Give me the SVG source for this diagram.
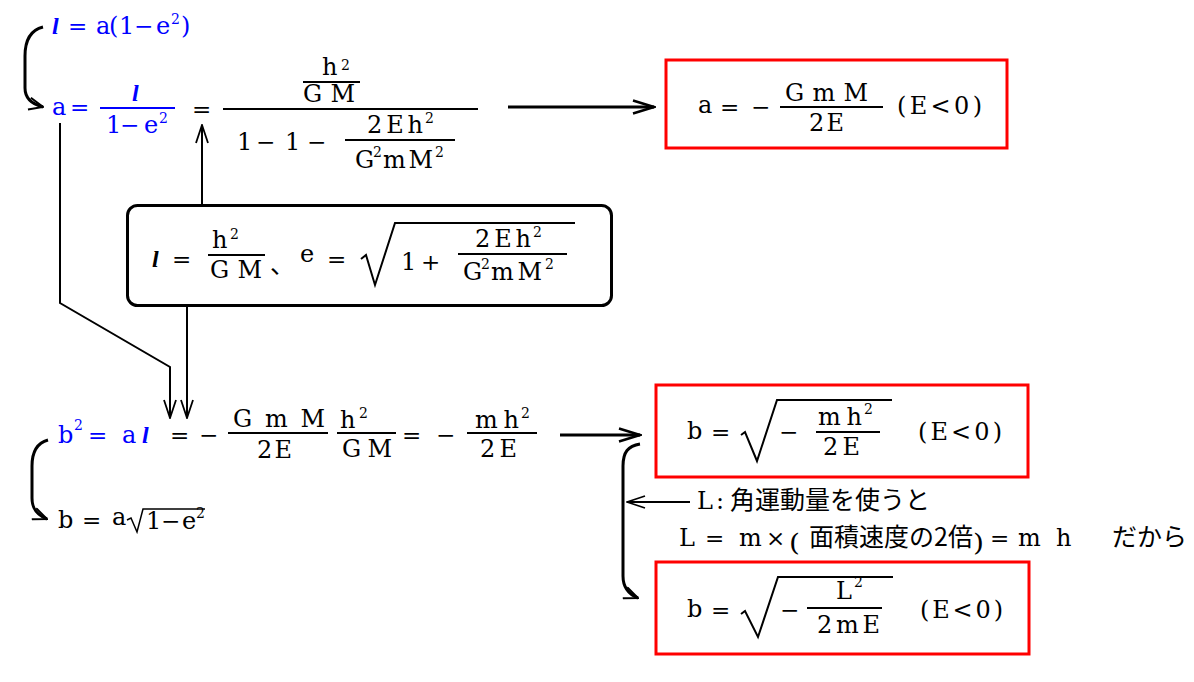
<svg xmlns="http://www.w3.org/2000/svg" width="1194" height="682" viewBox="0 0 1194 682">
<style>
.s{font-family:"DejaVu Serif","Liberation Serif",serif;font-size:24px;fill:#000}
.o{font-family:"DejaVu Serif",serif;font-size:23px;fill:#000}
.sp{font-size:14px}
.bl{fill:#0000ff}
.it{font-family:"Liberation Serif",serif;font-style:italic;font-weight:bold}
.jp{font-family:"Noto Sans CJK JP",sans-serif;font-size:25px;fill:#000}
.bar{stroke:#000;stroke-width:2;fill:none}
.bbar{stroke:#0000ff;stroke-width:2;fill:none}
.red{fill:none;stroke:#ff0000;stroke-width:3}
.ln{fill:none;stroke:#000;stroke-width:2}
.lnk{fill:none;stroke:#000;stroke-width:3}
.rad{fill:none;stroke:#000;stroke-width:2}
</style>
<defs>
<marker id="ah" markerUnits="userSpaceOnUse" viewBox="0 0 24 16" refX="22" refY="8" markerWidth="24" markerHeight="16" orient="auto"><path d="M1,1.5 L22,8 L1,14.5" fill="none" stroke="#000" stroke-width="2.5"/></marker>
<marker id="at" markerUnits="userSpaceOnUse" viewBox="0 0 20 14" refX="19" refY="7" markerWidth="20" markerHeight="14" orient="auto"><path d="M1,1 L19,7 L1,13" fill="none" stroke="#000" stroke-width="1.8"/></marker>
<marker id="ac" markerUnits="userSpaceOnUse" viewBox="0 0 16 14" refX="15" refY="7" markerWidth="16" markerHeight="14" orient="auto"><path d="M1,1 L15,7 L1,13" fill="none" stroke="#000" stroke-width="2"/></marker>
</defs>

<g id="connectors">
<path class="lnk" d="M43,27 C31,30 25,40 25,56 L25,88 C25,98 31,104 43,107" marker-end="url(#ac)"/>
<line class="lnk" x1="508" y1="107" x2="654" y2="107" marker-end="url(#ah)"/>
<line class="ln" x1="202" y1="205" x2="202" y2="125" marker-end="url(#at)"/>
<polyline class="ln" points="60,123 60,303 170,367 170,418" marker-end="url(#at)"/>
<line class="ln" x1="187" y1="306" x2="187" y2="418" marker-end="url(#at)"/>
<line class="lnk" x1="560" y1="435" x2="640" y2="435" marker-end="url(#ah)"/>
<path class="lnk" d="M640,444 C628,446 623,452 623,466 L623,576 C623,587 628,594 638,598" marker-end="url(#ac)"/>
<line class="ln" x1="690" y1="502" x2="627" y2="502" marker-end="url(#at)"/>
<path class="lnk" d="M48,440 C37,443 32,452 32,466 L32,498 C32,509 37,515 47,519" marker-end="url(#ac)"/>
</g>

<g id="eq-l">
<text class="s bl it" x="52" y="34" font-size="27">l</text>
<text class="o bl" x="68" y="34">=</text>
<text class="s bl" x="96" y="34" font-size="22">a</text>
<text class="s bl" x="109" y="34" font-size="22">(</text>
<text class="s bl" x="119" y="34" font-size="22">1</text>
<text class="o bl" x="134" y="34">−</text>
<text class="s bl" x="156" y="34" font-size="22">e</text>
<text class="s bl sp" x="171" y="24">2</text>
<text class="s bl" x="181" y="34" font-size="22">)</text>
</g>

<g id="eq-a">
<text class="s bl" x="52" y="115">a</text>
<text class="o bl" x="70" y="115">=</text>
<line class="bbar" x1="100" y1="108" x2="175" y2="108"/>
<text class="s bl it" x="132" y="101" font-size="27">l</text>
<text class="s bl" x="106" y="133" font-size="22">1</text>
<text class="o bl" x="120" y="133">−</text>
<text class="s bl" x="144" y="133" font-size="22">e</text>
<text class="s bl sp" x="159" y="123">2</text>
<text class="o" x="192" y="117">=</text>
<line class="bar" x1="223" y1="109" x2="478" y2="109"/>
<text class="s" x="322" y="75" font-size="26">h</text>
<text class="s sp" x="341" y="70">2</text>
<line class="bar" x1="303" y1="82" x2="360" y2="82"/>
<text class="s" x="303" y="102" textLength="52" lengthAdjust="spacing">GM</text>
<text class="s" x="237" y="150">1</text>
<text class="o" x="256" y="150">−</text>
<text class="s" x="285" y="150">1</text>
<text class="o" x="307" y="150">−</text>
<text class="s" x="367" y="133" textLength="56" lengthAdjust="spacing">2Eh</text>
<text class="s sp" x="425" y="123">2</text>
<line class="bar" x1="345" y1="140" x2="455" y2="140"/>
<text class="s" x="355" y="168">G</text>
<text class="s sp" x="373" y="157">2</text>
<text class="s" x="383" y="168" textLength="50" lengthAdjust="spacing">mM</text>
<text class="s sp" x="435" y="157">2</text>
</g>

<g id="box-a">
<rect class="red" x="666" y="60" width="341" height="88"/>
<text class="s" x="698" y="113">a</text>
<text class="o" x="720" y="115">=</text>
<text class="o" x="751" y="115">−</text>
<line class="bar" x1="780" y1="107" x2="883" y2="107"/>
<text class="s" x="785" y="101" textLength="83" lengthAdjust="spacing">GmM</text>
<text class="s" x="809" y="131" textLength="35" lengthAdjust="spacing">2E</text>
<text class="s" x="897" y="114" textLength="85" lengthAdjust="spacing">(E&lt;0)</text>
</g>

<g id="box-def">
<rect x="127.5" y="205.5" width="484" height="100" rx="10" fill="none" stroke="#000" stroke-width="3"/>
<text class="s it" x="152" y="267" font-size="29">l</text>
<text class="o" x="172" y="267">=</text>
<text class="s" x="212" y="248">h</text>
<text class="s sp" x="230" y="239">2</text>
<line class="bar" x1="208" y1="255" x2="265" y2="255"/>
<text class="s" x="210" y="278" textLength="52" lengthAdjust="spacing">GM</text>
<text class="jp" x="270" y="273" font-size="24">、</text>
<text class="s" x="300" y="262">e</text>
<text class="o" x="327" y="267">=</text>
<polyline class="rad" points="361,259 366,255 375,285 395,223 575,223"/>
<text class="s" x="401" y="270">1</text>
<text class="o" x="421" y="270">+</text>
<text class="s" x="475" y="247" textLength="56" lengthAdjust="spacing">2Eh</text>
<text class="s sp" x="533" y="237">2</text>
<line class="bar" x1="458" y1="254" x2="567" y2="254"/>
<text class="s" x="463" y="280">G</text>
<text class="s sp" x="481" y="269">2</text>
<text class="s" x="491" y="280" textLength="51" lengthAdjust="spacing">mM</text>
<text class="s sp" x="545" y="269">2</text>
</g>

<g id="eq-b2">
<text class="s bl" x="58" y="443">b</text>
<text class="s bl sp" x="74" y="430">2</text>
<text class="o bl" x="88" y="443">=</text>
<text class="s bl" x="122" y="443">a</text>
<text class="s bl it" x="142" y="443" font-size="27">l</text>
<text class="o" x="170" y="443">=</text>
<text class="o" x="199" y="443">−</text>
<text class="s" x="233" y="427" textLength="92" lengthAdjust="spacing">GmM</text>
<line class="bar" x1="228" y1="433" x2="328" y2="433"/>
<text class="s" x="257" y="458" textLength="35" lengthAdjust="spacing">2E</text>
<text class="s" x="340" y="428">h</text>
<text class="s sp" x="359" y="418">2</text>
<line class="bar" x1="337" y1="433" x2="396" y2="433"/>
<text class="s" x="342" y="457" textLength="50" lengthAdjust="spacing">GM</text>
<text class="o" x="402" y="443">=</text>
<text class="o" x="436" y="443">−</text>
<text class="s" x="475" y="428" textLength="44" lengthAdjust="spacing">mh</text>
<text class="s sp" x="521" y="418">2</text>
<line class="bar" x1="467" y1="433" x2="537" y2="433"/>
<text class="s" x="480" y="457" textLength="37" lengthAdjust="spacing">2E</text>
</g>

<g id="box-b1">
<rect class="red" x="656" y="385" width="372" height="92"/>
<text class="s" x="687" y="439">b</text>
<text class="o" x="711" y="440">=</text>
<polyline class="rad" points="741,435 745,432 757,461 777,400 892,400"/>
<text class="o" x="779" y="440">−</text>
<line class="bar" x1="816" y1="432" x2="880" y2="432"/>
<text class="s" x="818" y="425" textLength="44" lengthAdjust="spacing">mh</text>
<text class="s sp" x="864" y="414">2</text>
<text class="s" x="823" y="455" textLength="37" lengthAdjust="spacing">2E</text>
<text class="s" x="918" y="440" textLength="84" lengthAdjust="spacing">(E&lt;0)</text>
</g>

<g id="note">
<text class="s" x="697" y="509">L</text>
<text class="s" x="716" y="509">:</text>
<text class="jp" x="730" y="509">角運動量を使うと</text>
<text class="s" x="679" y="546">L</text>
<text class="o" x="705" y="546">=</text>
<text class="s" x="739" y="546">m</text>
<text class="o" x="766" y="546">×</text>
<text class="s" x="789" y="551" font-size="48" textLength="11" lengthAdjust="spacingAndGlyphs">(</text>
<text class="jp" x="809" y="546">面積速度の2倍</text>
<text class="s" x="973" y="551" font-size="48" textLength="11" lengthAdjust="spacingAndGlyphs">)</text>
<text class="o" x="990" y="546">=</text>
<text class="s" x="1018" y="546" font-size="26">m</text>
<text class="s" x="1056" y="546" font-size="26">h</text>
<text class="jp" x="1112" y="546" font-size="23">だから</text>
</g>

<g id="box-b2">
<rect class="red" x="656" y="562" width="373" height="92"/>
<text class="s" x="687" y="617">b</text>
<text class="o" x="711" y="618">=</text>
<polyline class="rad" points="741,614 745,611 758,637 778,577 893,577"/>
<text class="o" x="780" y="618">−</text>
<line class="bar" x1="807" y1="608" x2="882" y2="608"/>
<text class="s" x="836" y="599">L</text>
<text class="s sp" x="854" y="587">2</text>
<text class="s" x="817" y="633" textLength="63" lengthAdjust="spacing">2mE</text>
<text class="s" x="920" y="618" textLength="83" lengthAdjust="spacing">(E&lt;0)</text>
</g>

<g id="eq-b">
<text class="s" x="58" y="528">b</text>
<text class="o" x="82" y="528">=</text>
<text class="s" x="112" y="525" font-size="22">a</text>
<polyline points="127,520 131,518 137,532 143,509 205,509" fill="none" stroke="#000" stroke-width="1.5"/>
<text class="s" x="146" y="529" font-size="22">1</text>
<text class="o" x="161" y="529">−</text>
<text class="s" x="182" y="529" font-size="22">e</text>
<text class="s sp" x="196" y="518">2</text>
</g>
</svg>
